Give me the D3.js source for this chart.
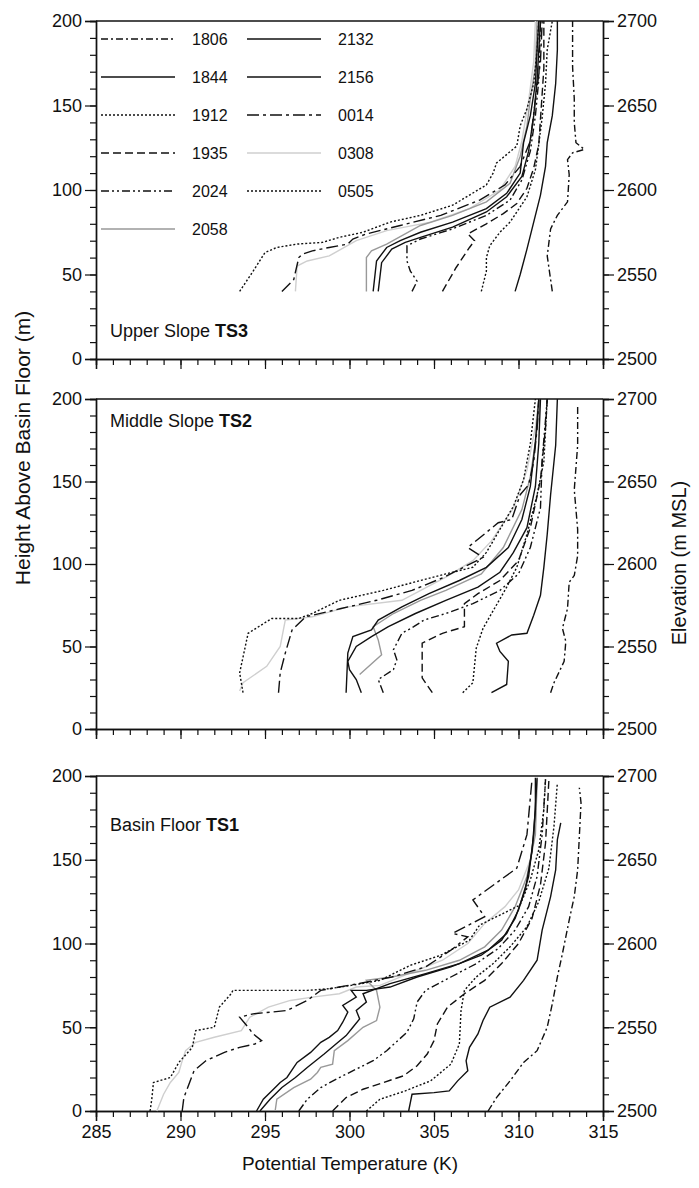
<!DOCTYPE html>
<html>
<head>
<meta charset="utf-8">
<script src="https://cdn.jsdelivr.net/npm/d3@7/dist/d3.min.js"></script>
<style>
  body { margin: 0; background: #fff; }
  svg text { font-family: "Liberation Sans Narrow", "Liberation Sans", Arial, sans-serif; fill: #111; }
</style>
</head>
<body>
<div id="chart"></div>
<script>
// sounding times, same order in every panel
var times = ["1806", "1844", "1912", "1935", "2024", "2058", "2132", "2156", "0014", "0308", "0505"];

var xTicks = [285, 290, 295, 300, 305, 310, 315];
var heightTicks = [0, 50, 100, 150, 200];
var elevTicks = [2500, 2550, 2600, 2650, 2700];

// profiles: [potential temperature K, height above basin floor m]
var ts3 = [
  [[312.0,40],[311.7,61],[311.9,77],[312.3,85],[312.9,93],[313.0,109],[312.9,118],[313.2,122],[313.9,124],[313.4,128],[313.3,140],[313.3,154],[313.2,173],[313.2,200]],
  [[309.8,40],[310.1,50],[310.5,65],[310.9,81],[311.3,97],[311.6,114],[311.7,128],[312.0,144],[312.2,163],[312.3,183],[312.3,200]],
  [[307.8,40],[308.1,52],[308.1,60],[308.3,67],[308.9,75],[309.5,81],[310.5,96],[311.0,112],[311.2,127],[311.4,143],[311.6,163],[311.7,183],[312.0,200]],
  [[305.5,40],[306.3,54],[307.1,66],[307.4,70],[307.0,74],[308.1,80],[309.1,86],[309.9,92],[310.5,101],[310.9,113],[311.2,127],[311.3,142],[311.5,172],[311.5,200]],
  [[303.7,40],[304.0,46],[303.6,52],[303.4,58],[303.4,67],[304.2,71],[306.1,77],[308.1,85],[309.5,94],[310.2,106],[310.7,123],[311.0,144],[311.2,165],[311.3,200]],
  [[301.0,40],[301.0,60],[301.3,64],[302.2,68],[304.2,79],[306.1,85],[308.1,93],[309.5,104],[310.1,120],[310.5,138],[310.7,154],[311.0,173],[311.1,200]],
  [[301.4,40],[301.6,58],[302.2,66],[303.0,70],[304.2,75],[306.1,81],[308.1,89],[309.3,98],[310.1,110],[310.3,128],[310.7,144],[311.0,163],[311.1,183],[311.2,200]],
  [[301.7,40],[301.9,57],[302.5,65],[303.3,69],[304.2,72],[306.1,78],[308.1,87],[309.3,96],[310.2,108],[310.6,123],[310.9,144],[311.1,165],[311.3,200]],
  [[296.0,40],[296.7,47],[297.0,60],[297.2,62],[297.8,64],[298.8,66],[299.9,68],[300.2,71],[301.0,74],[303.0,79],[305.4,85],[307.7,94],[309.2,103],[310.1,114],[310.7,129],[311.0,153],[311.3,176],[311.4,200]],
  [[296.8,40],[296.9,55],[297.5,58],[298.8,61],[300.4,70],[302.2,76],[304.8,81],[307.1,89],[308.9,100],[309.8,114],[310.2,129],[310.6,153],[310.9,176],[311.0,200]],
  [[293.5,40],[294.3,52],[295.0,63],[295.7,66],[296.9,68],[298.4,69],[299.4,72],[300.8,75],[302.4,81],[304.2,85],[306.1,91],[308.1,103],[308.5,110],[308.7,116],[309.9,126],[310.1,138],[310.5,148],[310.9,163],[311.1,183],[311.2,200]]
];

var ts2 = [
  [[311.9,22],[312.1,28],[312.7,41],[312.8,53],[312.6,61],[312.9,73],[313.0,89],[313.3,93],[313.5,105],[313.5,121],[313.3,145],[313.5,172],[313.5,197]],
  [[308.4,22],[309.3,27],[309.4,41],[308.9,47],[308.7,52],[309.6,57],[310.5,58],[310.9,69],[311.3,81],[311.5,98],[311.7,118],[311.9,142],[312.2,172],[312.3,200]],
  [[306.7,22],[307.3,28],[307.5,49],[307.9,61],[308.8,77],[309.3,86],[309.9,98],[310.5,118],[311.1,142],[311.5,162],[311.7,200]],
  [[304.9,22],[304.3,31],[304.3,52],[305.5,58],[306.8,62],[306.8,76],[307.6,82],[308.9,90],[310.0,102],[310.7,122],[311.3,151],[311.6,183],[311.7,200]],
  [[302.0,22],[301.7,30],[302.6,36],[302.8,42],[302.6,48],[303.1,58],[303.8,62],[304.4,66],[305.7,70],[307.3,76],[308.9,84],[310.0,94],[310.7,110],[311.3,134],[311.4,163],[311.7,200]],
  [[300.6,33],[301.9,45],[301.7,54],[301.4,62],[302.6,70],[304.2,78],[305.7,84],[307.8,94],[309.1,110],[310.2,133],[310.7,153],[311.0,174],[311.3,200]],
  [[299.8,22],[299.9,46],[300.2,56],[301.3,60],[301.7,66],[303.1,74],[304.7,82],[306.5,90],[308.1,98],[309.4,110],[310.2,127],[310.7,147],[311.0,174],[311.2,200]],
  [[300.7,22],[300.4,30],[300.0,36],[299.9,41],[300.4,50],[301.3,56],[302.3,62],[303.9,70],[305.7,78],[307.6,86],[308.9,95],[309.7,107],[310.5,122],[311.0,147],[311.2,173],[311.3,200]],
  [[295.8,22],[295.9,34],[296.2,46],[296.6,60],[297.4,68],[299.5,73],[301.6,78],[303.7,84],[305.6,92],[307.9,104],[307.0,110],[308.8,125],[309.6,127],[310.1,142],[310.6,148],[310.9,162],[311.1,182],[311.2,200]],
  [[293.5,23],[293.7,28],[295.1,38],[295.9,50],[296.2,66],[297.8,68],[299.9,74],[303.1,78],[305.7,92],[307.3,102],[308.4,114],[309.7,134],[310.5,157],[311.0,183],[311.2,200]],
  [[293.7,22],[293.5,34],[294.0,58],[295.4,67],[297.0,67],[297.8,70],[299.4,78],[302.0,84],[304.2,90],[305.7,94],[307.3,98],[308.1,107],[308.9,121],[309.7,135],[310.3,151],[310.7,173],[311.0,200]]
];

var ts1 = [
  [[308.2,0],[308.7,8],[309.5,18],[310.3,29],[311.1,36],[311.7,50],[312.0,64],[312.3,80],[312.6,94],[313.0,114],[313.3,128],[313.5,144],[313.6,164],[313.7,184],[313.6,193]],
  [[303.5,0],[303.6,5],[303.7,10],[305.0,11],[305.9,12],[306.4,18],[307.0,24],[306.9,30],[307.1,38],[307.6,46],[307.9,54],[308.3,62],[309.5,68],[310.3,78],[311.1,90],[311.4,108],[311.9,128],[312.2,144],[312.3,162],[312.5,172]],
  [[301.0,0],[301.8,7],[303.3,12],[304.8,18],[306.0,28],[306.5,40],[306.6,60],[306.8,72],[307.5,80],[308.5,88],[309.5,98],[310.5,110],[311.2,125],[311.8,145],[312.1,170],[312.3,196]],
  [[299.0,0],[299.8,8],[300.8,13],[302.0,17],[303.2,21],[304.0,27],[304.6,34],[305.0,42],[305.2,52],[305.8,62],[306.8,70],[308.0,78],[309.0,88],[310.0,100],[310.8,115],[311.3,135],[311.6,160],[311.8,198]],
  [[297.0,0],[297.5,7],[298.3,14],[299.4,20],[300.6,26],[301.4,30],[302.2,36],[303.4,47],[303.8,55],[304.0,65],[304.5,72],[306.0,80],[307.5,88],[308.8,97],[309.8,108],[310.6,122],[311.1,140],[311.4,165],[311.6,198]],
  [[295.6,0],[295.7,7],[296.7,14],[297.7,19],[298.1,23],[298.3,26],[299.0,28],[299.1,36],[299.9,42],[300.8,50],[301.6,54],[301.8,62],[301.6,72],[301.0,78],[302.5,80],[304.5,84],[306.5,90],[308.0,98],[309.0,108],[309.8,122],[310.5,140],[311.0,165],[311.1,198]],
  [[294.5,0],[294.9,7],[295.5,13],[295.9,17],[296.3,20],[296.7,26],[296.9,29],[297.7,35],[298.3,41],[298.8,44],[299.3,48],[299.6,53],[299.9,59],[299.6,63],[300.4,68],[300.1,72],[301.0,72],[302.4,74],[304.0,80],[306.0,86],[307.8,93],[309.0,102],[309.8,115],[310.4,132],[310.8,155],[311.0,180],[311.0,199]],
  [[294.7,0],[295.3,7],[296.0,14],[296.8,20],[297.5,26],[298.0,30],[298.5,34],[299.2,40],[299.8,45],[300.2,50],[300.6,55],[300.4,60],[301.0,65],[300.8,70],[302.4,76],[304.5,82],[306.5,88],[308.2,96],[309.3,106],[310.0,120],[310.6,140],[310.9,165],[311.1,199]],
  [[290.1,0],[290.2,8],[290.5,16],[290.8,24],[291.5,30],[292.6,35],[293.5,38],[294.4,40],[294.8,42],[294.3,46],[294.0,50],[293.5,56],[294.3,58],[296.3,60],[297.5,66],[298.3,72],[300.5,76],[302.5,80],[304.5,86],[306.0,96],[307.0,104],[306.1,106],[308.0,116],[307.3,126],[309.9,145],[310.5,165],[310.8,198]],
  [[288.6,0],[289.0,10],[289.4,17],[289.9,23],[290.1,30],[290.3,36],[290.9,41],[292.0,44],[293.6,48],[294.1,56],[295.2,62],[296.5,66],[297.8,68],[299.4,70],[300.4,74],[301.8,75],[303.5,82],[305.5,90],[307.0,100],[308.0,112],[309.2,122],[310.0,132],[310.7,150],[311.0,170],[311.1,198]],
  [[288.2,0],[288.3,7],[288.4,17],[289.4,20],[289.9,29],[290.7,38],[290.9,48],[292.0,50],[292.3,62],[293.0,70],[293.1,72],[294.7,72],[297.5,72],[298.8,73],[300.1,75],[301.8,78],[303.6,87],[305.4,93],[307.1,102],[307.7,111],[308.9,117],[310.1,123],[310.7,138],[311.2,156],[311.5,180],[311.6,198]]
];

// line styles per time
var strokes = ["#111", "#111", "#111", "#111", "#111", "#999", "#111", "#111", "#111", "#cfcfcf", "#111"];
var dashes = ["7,3,2,3", null, "2,2", "8,4", "8,3,2,3,2,3", null, null, null, "12,4,3,4", null, "2,2"];

var width = 699, height = 1188;
var svg = d3.select("#chart").append("svg")
    .attr("width", width)
    .attr("height", height);

var x = d3.scaleLinear().domain([285, 315]).range([96, 603]);

var panels = [
  { name: "Upper Slope ", tag: "TS3", top: 21, bottom: 359, data: ts3, titleY: 337 },
  { name: "Middle Slope ", tag: "TS2", top: 399, bottom: 729, data: ts2, titleY: 427 },
  { name: "Basin Floor ", tag: "TS1", top: 776, bottom: 1111, data: ts1, titleY: 831 }
];

panels.forEach(function (p, pi) {
  var y = d3.scaleLinear().domain([0, 200]).range([p.bottom, p.top]);
  var y2 = d3.scaleLinear().domain([2500, 2700]).range([p.bottom, p.top]);
  var g = svg.append("g");

  // minor ticks, then major ticks with labels
  g.append("g").attr("transform", "translate(96,0)")
      .call(d3.axisLeft(y).tickValues(d3.range(0, 201, 10)).tickSize(6).tickFormat(""));
  g.append("g").attr("transform", "translate(96,0)")
      .call(d3.axisLeft(y).tickValues(heightTicks).tickSize(11).tickPadding(3).tickFormat(d3.format("d")));
  g.append("g").attr("transform", "translate(603,0)")
      .call(d3.axisRight(y2).tickValues(d3.range(2500, 2701, 10)).tickSize(6).tickFormat(""));
  g.append("g").attr("transform", "translate(603,0)")
      .call(d3.axisRight(y2).tickValues(elevTicks).tickSize(11).tickPadding(3).tickFormat(d3.format("d")));
  g.append("g").attr("transform", "translate(0," + p.bottom + ")")
      .call(d3.axisBottom(x).tickValues(d3.range(285, 316, 1)).tickSize(6).tickFormat(""));
  var xa = g.append("g").attr("transform", "translate(0," + p.bottom + ")")
      .call(d3.axisBottom(x).tickValues(xTicks).tickSize(10).tickPadding(4).tickFormat(d3.format("d")));
  if (pi < 2) xa.selectAll("text").remove();

  g.selectAll(".domain").attr("stroke", "#111").attr("stroke-width", 1.4);
  g.selectAll(".tick line").attr("stroke", "#111").attr("stroke-width", 1.2);
  g.selectAll(".tick text").attr("font-size", 18).attr("fill", "#111")
      .style("font-family", '"Liberation Sans Narrow", "Liberation Sans", Arial, sans-serif');

  // top frame
  g.append("line")
      .attr("x1", 96).attr("x2", 603)
      .attr("y1", p.top).attr("y2", p.top)
      .attr("stroke", "#111").attr("stroke-width", 1.4);

  var line = d3.line()
      .x(function (d) { return x(d[0]); })
      .y(function (d) { return y(d[1]); });

  // light lines first so the black ones sit on top
  var order = [9, 5, 0, 1, 2, 3, 4, 6, 7, 8, 10];
  order.forEach(function (i) {
    g.append("path")
        .datum(p.data[i])
        .attr("d", line)
        .attr("fill", "none")
        .attr("stroke", strokes[i])
        .attr("stroke-width", 1.4)
        .attr("stroke-dasharray", dashes[i]);
  });

  var t = g.append("text")
      .attr("x", 110).attr("y", p.titleY)
      .attr("font-size", 18);
  t.append("tspan").text(p.name);
  t.append("tspan").attr("font-weight", "bold").text(p.tag);
});

// legend in the top panel
var legend = svg.append("g");
times.forEach(function (tm, i) {
  var col = i < 6 ? 0 : 1;
  var row = i < 6 ? i : i - 6;
  var lx = col === 0 ? 101 : 247;
  var ly = 39 + row * 38;
  legend.append("line")
      .attr("x1", lx).attr("x2", lx + 74)
      .attr("y1", ly).attr("y2", ly)
      .attr("stroke", strokes[i])
      .attr("stroke-width", 1.4)
      .attr("stroke-dasharray", dashes[i]);
  legend.append("text")
      .attr("x", lx + 91).attr("y", ly + 6)
      .attr("font-size", 16)
      .text(tm);
});

// axis titles
svg.append("text")
    .attr("transform", "translate(30,448) rotate(-90)")
    .attr("text-anchor", "middle")
    .attr("font-size", 21)
    .text("Height Above Basin Floor (m)");

svg.append("text")
    .attr("transform", "translate(686,563) rotate(-90)")
    .attr("text-anchor", "middle")
    .attr("font-size", 20)
    .text("Elevation (m MSL)");

svg.append("text")
    .attr("x", 350).attr("y", 1170)
    .attr("text-anchor", "middle")
    .attr("font-size", 19)
    .text("Potential Temperature (K)");
</script>
</body>
</html>
